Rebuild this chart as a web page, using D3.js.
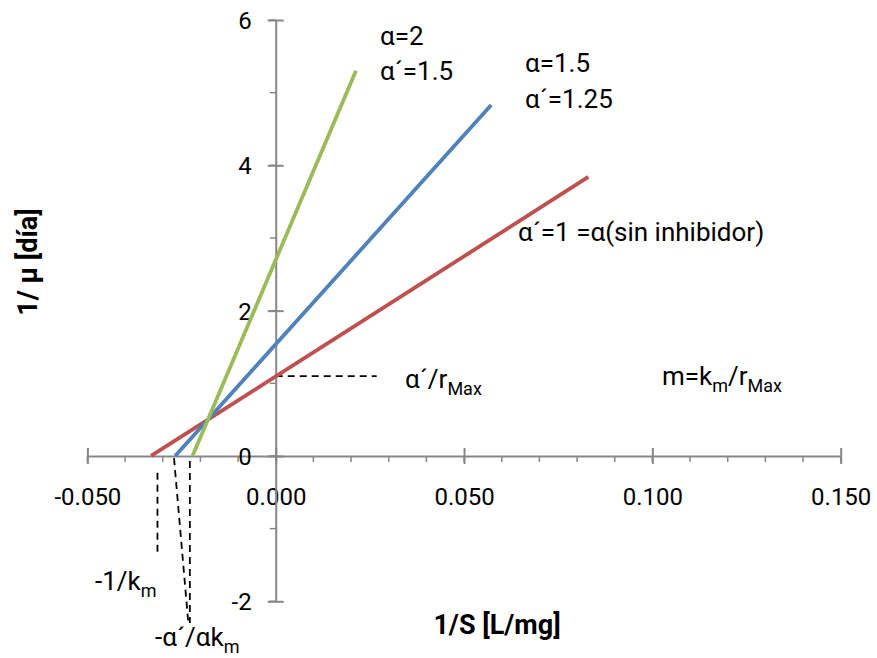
<!DOCTYPE html>
<html>
<head>
<meta charset="utf-8">
<script src="https://cdn.jsdelivr.net/npm/d3@7"></script>
<style>
  body { margin: 0; background: #fff; }
  text { font-family: Roboto, "Liberation Sans", sans-serif; fill: #000; }
</style>
</head>
<body>
<div id="chart"></div>
<script>
// axis ticks
var xTicks = [-0.05, 0, 0.05, 0.1, 0.15];
var xTickLabels = ["-0.050", "0.000", "0.050", "0.100", "0.150"];
var yTicks = [-2, 0, 2, 4, 6];
var yTickLabels = ["-2", "0", "2", "4", "6"];

// Lineweaver-Burk lines: [1/S, 1/mu] end points
var sinInhibidor = [[-0.0331, 0], [0.0830, 3.84]];   // alpha' = 1 = alpha
var alfa15 = [[-0.0267, 0], [0.0572, 4.83]];         // alpha 1.5, alpha' 1.25
var alfa2 = [[-0.0221, 0], [0.0213, 5.30]];          // alpha 2, alpha' 1.5

var seriesColors = ["#C0504D", "#4F81BD", "#9BBB59"];

// dashed guide lines (data units)
var guides = [
    [[0, 1.10], [0.0268, 1.10]],
    [[-0.0314, -0.23], [-0.0314, -1.32]],
    [[-0.0270, -0.03], [-0.0232, -2.30]],
    [[-0.0228, -0.07], [-0.0228, -2.30]]
];

var W = 877, H = 658;
var svg = d3.select("#chart").append("svg")
    .attr("width", W)
    .attr("height", H);

var x = d3.scaleLinear().domain([-0.05, 0.15]).range([87.4, 840.7]);
var y = d3.scaleLinear().domain([-2, 6]).range([601.3, 20]);

var axisColor = "#878787";

// minor ticks
var xMinor = d3.range(-0.05, 0.1501, 0.01);
svg.append("g").selectAll("line").data(xMinor).enter().append("line")
    .attr("x1", function (d) { return x(d); })
    .attr("x2", function (d) { return x(d); })
    .attr("y1", y(0)).attr("y2", y(0) + 6)
    .attr("stroke", axisColor).attr("stroke-width", 1.5);

var yMinor = d3.range(-2, 6.01, 1);
svg.append("g").selectAll("line").data(yMinor).enter().append("line")
    .attr("x1", x(0) - 6).attr("x2", x(0))
    .attr("y1", function (d) { return y(d); })
    .attr("y2", function (d) { return y(d); })
    .attr("stroke", axisColor).attr("stroke-width", 1.5);

// x axis
var x_g = svg.append("g")
    .attr("transform", "translate(0," + y(0) + ")")
    .call(d3.axisBottom(x).tickValues(xTicks)
        .tickFormat(function (d, i) { return xTickLabels[i]; })
        .tickSizeOuter(0).tickSizeInner(8).tickPadding(0));
x_g.select(".domain").attr("stroke", axisColor).attr("stroke-width", 2);
x_g.selectAll(".tick line").attr("stroke", axisColor).attr("stroke-width", 2).attr("y1", -8);
x_g.selectAll(".tick text")
    .attr("y", 49).attr("dy", null)
    .style("font-size", "24px").style("font-family", "Roboto");

// y axis
var y_g = svg.append("g")
    .attr("transform", "translate(" + x(0) + ",0)")
    .call(d3.axisLeft(y).tickValues(yTicks)
        .tickFormat(function (d, i) { return yTickLabels[i]; })
        .tickSizeOuter(0).tickSizeInner(8).tickPadding(0));
y_g.select(".domain").attr("stroke", axisColor).attr("stroke-width", 2);
y_g.selectAll(".tick line").attr("stroke", axisColor).attr("stroke-width", 2).attr("x1", 8);
y_g.selectAll(".tick text")
    .attr("x", -24).attr("dy", "0.35em")
    .style("font-size", "24px").style("font-family", "Roboto");

// dashed guides
var line = d3.line()
    .x(function (d) { return x(d[0]); })
    .y(function (d) { return y(d[1]); });

svg.append("g").selectAll("path").data(guides).enter().append("path")
    .attr("d", line)
    .attr("fill", "none")
    .attr("stroke", "#000")
    .attr("stroke-width", 1.8)
    .attr("stroke-dasharray", "7,5");

// series
var allSeries = [sinInhibidor, alfa15, alfa2];
svg.append("g").selectAll("path").data(allSeries).enter().append("path")
    .attr("d", line)
    .attr("fill", "none")
    .attr("stroke", function (d, i) { return seriesColors[i]; })
    .attr("stroke-width", 3.8);

// axis titles
svg.append("text")
    .attr("x", 497).attr("y", 634)
    .attr("text-anchor", "middle")
    .style("font-size", "27px").style("font-weight", "bold")
    .text("1/S [L/mg]");

svg.append("text")
    .attr("transform", "translate(37,262) rotate(-90)")
    .attr("text-anchor", "middle")
    .style("font-size", "27px").style("font-weight", "bold")
    .text("1/ μ [día]");

// annotations
function note(px, py, parts) {
    var t = svg.append("text").attr("x", px).attr("y", py).style("font-size", "26px");
    parts.forEach(function (p) {
        var s = t.append("tspan").text(p[0]);
        if (p[1] === "sub") s.attr("dy", 7).style("font-size", "18px");
        if (p[1] === "up") s.attr("dy", -7);
    });
}
note(380, 45, [["α=2"]]);
note(380, 80, [["α´=1.5"]]);
note(525, 72, [["α=1.5"]]);
note(525, 108, [["α´=1.25"]]);
note(518, 241, [["α´=1 =α(sin inhibidor)"]]);
note(405, 388, [["α´/r"], ["Max", "sub"]]);
note(662, 385, [["m=k"], ["m", "sub"], ["/r", "up"], ["Max", "sub"]]);
note(95, 590, [["-1/k"], ["m", "sub"]]);
note(155, 646, [["-α´/αk"], ["m", "sub"]]);
</script>
</body>
</html>
